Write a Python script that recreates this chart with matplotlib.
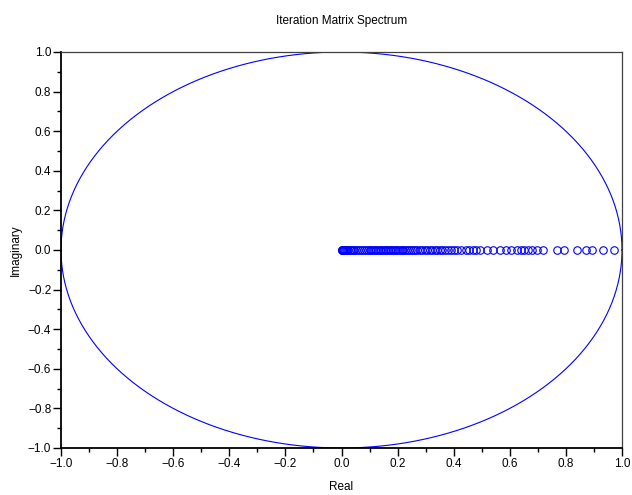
#!/usr/bin/env python3
"""
Iteration matrix spectrum: eigenvalues plotted against the unit circle.
"""

import matplotlib
matplotlib.use("Agg")
import matplotlib.pyplot as plt
import numpy as np
from matplotlib.ticker import MultipleLocator

plt.rcParams["font.family"] = ["Liberation Sans", "DejaVu Sans"]

TITLE = "Iteration Matrix Spectrum"
X_LABEL = "Real"
Y_LABEL = "Imaginary"

# eigenvalues (all real, imaginary part zero)
eig_real = [
    0.000, 0.000, 0.002, 0.004, 0.006, 0.009, 0.012, 0.016, 0.020, 0.024,
    0.029, 0.034, 0.040, 0.046, 0.052, 0.058, 0.065, 0.072, 0.079, 0.086,
    0.093, 0.100, 0.106, 0.112, 0.118, 0.124, 0.130, 0.136, 0.142, 0.148,
    0.154, 0.160, 0.166, 0.172, 0.178, 0.184, 0.190, 0.196, 0.202, 0.208,
    0.214, 0.220, 0.226, 0.233, 0.240, 0.247, 0.254, 0.262, 0.270, 0.279,
    0.288, 0.296, 0.305, 0.314, 0.323, 0.332, 0.341, 0.350, 0.359, 0.368,
    0.380, 0.392, 0.401, 0.410, 0.427, 0.445, 0.456, 0.468, 0.480, 0.493,
    0.517, 0.540, 0.564, 0.588, 0.606, 0.625, 0.640, 0.652, 0.665, 0.678,
    0.698, 0.719, 0.767, 0.794, 0.838, 0.870, 0.892, 0.931, 0.971,
]
eig_imag = [0.0] * len(eig_real)

x_ticks = [-1.0, -0.8, -0.6, -0.4, -0.2, 0.0, 0.2, 0.4, 0.6, 0.8, 1.0]
y_ticks = [-1.0, -0.8, -0.6, -0.4, -0.2, 0.0, 0.2, 0.4, 0.6, 0.8, 1.0]


def main():
    fig = plt.figure(figsize=(6.32, 4.95), dpi=100)
    ax = fig.add_axes([61 / 632, 47 / 495, 561 / 632, 396 / 495])

    theta = np.linspace(0, 2 * np.pi, 400)
    ax.plot(np.cos(theta), np.sin(theta), color="#0000ff", linewidth=0.8)

    ax.plot(eig_real, eig_imag, linestyle="none", marker="o", markersize=5.4,
            markerfacecolor="none", markeredgecolor="#0000ff", markeredgewidth=0.8)

    ax.set_xlim(-1, 1)
    ax.set_ylim(-1, 1)
    ax.set_xticks(x_ticks)
    ax.set_yticks(y_ticks)
    ax.set_xticklabels([f"{t:.1f}".replace("-", "\u2212") for t in x_ticks])
    ax.set_yticklabels([f"{t:.1f}".replace("-", "\u2212") for t in y_ticks])
    ax.xaxis.set_minor_locator(MultipleLocator(0.1))
    ax.yaxis.set_minor_locator(MultipleLocator(0.1))
    ax.tick_params(which="major", direction="out", length=5.5, width=1.0,
                   labelsize=8.5, pad=1.5, colors="black")
    ax.tick_params(which="minor", direction="out", length=3, width=1.0)

    for side in ("left", "bottom"):
        ax.spines[side].set_linewidth(1.3)
        ax.spines[side].set_color("black")
    for side in ("top", "right"):
        ax.spines[side].set_linewidth(0.9)
        ax.spines[side].set_color("#404040")

    ax.set_title(TITLE, fontsize=8.5, pad=20)
    ax.set_xlabel(X_LABEL, fontsize=8.5, labelpad=8)
    ax.set_ylabel(Y_LABEL, fontsize=8.5, labelpad=4)

    fig.savefig("out.png", dpi=100)
    plt.close(fig)


if __name__ == "__main__":
    main()
